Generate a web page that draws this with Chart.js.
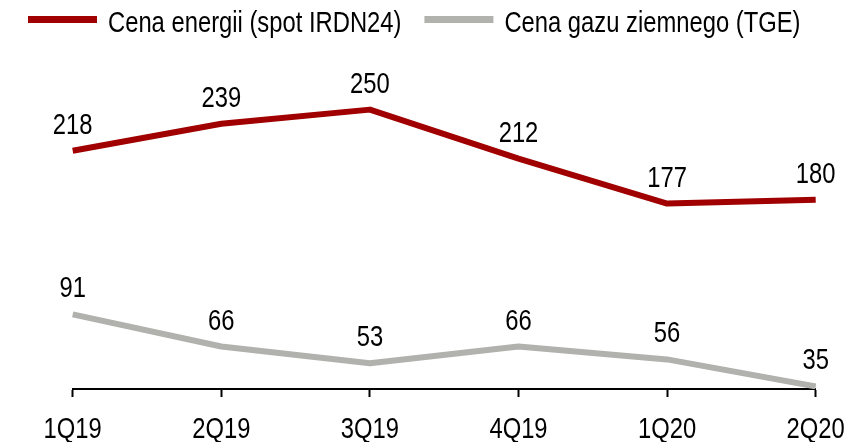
<!DOCTYPE html>
<html>
<head>
<meta charset="utf-8">
<script src="https://cdn.jsdelivr.net/npm/chart.js@4/dist/chart.umd.min.js"></script>
<style>
  html, body { margin: 0; padding: 0; background: #fff; }
  #wrap { width: 854px; height: 442px; }
</style>
</head>
<body>
<div id="wrap"><canvas id="chart" width="854" height="442"></canvas></div>
<script>
// chart data
const quarters = ['1Q19', '2Q19', '3Q19', '4Q19', '1Q20', '2Q20'];
const energyPrice = [218, 239, 250, 212, 177, 180];
const gasPrice = [91, 66, 53, 66, 56, 35];
const seriesNames = ['Cena energii (spot IRDN24)', 'Cena gazu ziemnego (TGE)'];
const seriesColors = ['#a00000', '#b1b1ad'];

// no Arial Narrow here, so squeeze Liberation Sans (same metrics) horizontally
const FONT = "29px 'Liberation Sans', Arial, sans-serif";
const NARROW = 0.82;

function narrowText(ctx, text, x, y, align) {
    ctx.save();
    ctx.translate(x, y);
    ctx.scale(NARROW, 1);
    ctx.textAlign = align;
    ctx.fillText(text, 0, 0);
    ctx.restore();
}

// values above each point
const pointLabels = {
    id: 'pointLabels',
    afterDatasetsDraw(chart) {
        const ctx = chart.ctx;
        ctx.save();
        ctx.font = FONT;
        ctx.fillStyle = '#000';
        ctx.textBaseline = 'alphabetic';
        chart.data.datasets.forEach((ds, i) => {
            const meta = chart.getDatasetMeta(i);
            meta.data.forEach((pt, j) => {
                narrowText(ctx, String(ds.data[j]), pt.x, pt.y - 17, 'center');
            });
        });
        ctx.restore();
    }
};

// category labels under the x axis ticks
const categoryLabels = {
    id: 'categoryLabels',
    afterDraw(chart) {
        const ctx = chart.ctx;
        const xs = chart.scales.x;
        ctx.save();
        ctx.font = FONT;
        ctx.fillStyle = '#000';
        ctx.textBaseline = 'alphabetic';
        chart.data.labels.forEach((lab, i) => {
            narrowText(ctx, lab, xs.getPixelForTick(i), xs.bottom - 4.5, 'center');
        });
        ctx.restore();
    }
};

// legend row at the top, built from the datasets
const topLegend = {
    id: 'topLegend',
    afterDraw(chart) {
        const ctx = chart.ctx;
        ctx.save();
        ctx.font = FONT;
        ctx.textBaseline = 'alphabetic';
        let x = 28;
        chart.data.datasets.forEach(ds => {
            ctx.fillStyle = ds.borderColor;
            ctx.fillRect(x, 16, 69, 7);
            x += 69 + 11;
            ctx.fillStyle = '#000';
            narrowText(ctx, ds.label, x, 31.5, 'left');
            x += ctx.measureText(ds.label).width * NARROW + 23;
        });
        ctx.restore();
    }
};

new Chart(document.getElementById('chart'), {
    type: 'line',
    data: {
        labels: quarters,
        datasets: [
            {
                label: seriesNames[0],
                data: energyPrice,
                borderColor: seriesColors[0],
                backgroundColor: seriesColors[0],
                borderWidth: 6,
                pointRadius: 0,
                tension: 0,
                borderJoinStyle: 'round'
            },
            {
                label: seriesNames[1],
                data: gasPrice,
                borderColor: seriesColors[1],
                backgroundColor: seriesColors[1],
                borderWidth: 6,
                pointRadius: 0,
                tension: 0,
                borderJoinStyle: 'round'
            }
        ]
    },
    options: {
        responsive: false,
        animation: false,
        layout: { padding: { top: 71, left: 72.7, right: 38.3, bottom: 0 } },
        plugins: {
            legend: { display: false },
            tooltip: { enabled: false }
        },
        scales: {
            x: {
                offset: false,
                border: { display: true, color: '#000', width: 2 },
                grid: {
                    display: true,
                    drawOnChartArea: false,
                    drawTicks: true,
                    tickLength: 8,
                    tickWidth: 2,
                    tickColor: '#000'
                },
                ticks: { display: false },
                afterFit(scale) { scale.height = 53; }
            },
            y: {
                display: false,
                min: 33,
                max: 280
            }
        }
    },
    plugins: [pointLabels, categoryLabels, topLegend]
});
</script>
</body>
</html>
